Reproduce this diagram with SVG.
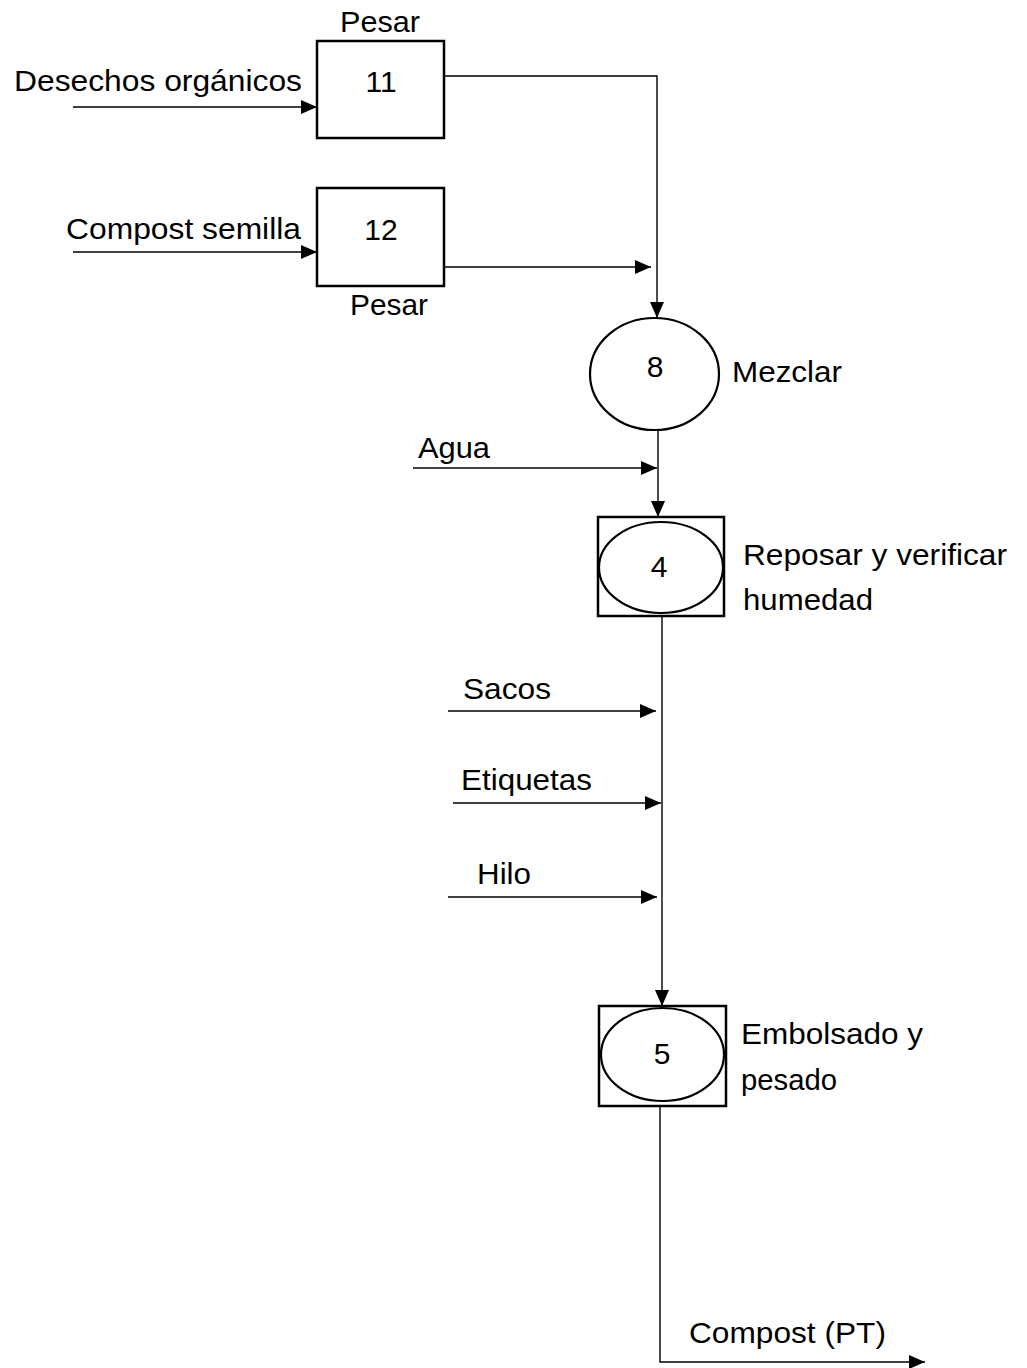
<svg xmlns="http://www.w3.org/2000/svg" width="1027" height="1368" viewBox="0 0 1027 1368">
  <style>
    .box { fill: #fff; stroke: #000; stroke-width: 2.5; }
    .shape { fill: #fff; stroke: #000; stroke-width: 2.2; }
    .flow { fill: none; stroke: #000; stroke-width: 1.4; }
    .lbl { font-family: "Liberation Sans", Arial, sans-serif; font-size: 30px; fill: #000; }
    .num { font-family: "Liberation Sans", Arial, sans-serif; font-size: 30px; fill: #000; text-anchor: middle; }
  </style>
  <defs>
    <marker id="arrow" markerUnits="userSpaceOnUse" markerWidth="18" markerHeight="16" refX="16" refY="7" orient="auto">
      <path d="M0,0 L16,7 L0,14 Z" fill="#000"/>
    </marker>
  </defs>

  <rect width="1027" height="1368" fill="#fff"/>

  <!-- flows between operations -->
  <g id="connectors">
    <line class="flow" x1="73" y1="107" x2="317" y2="107" marker-end="url(#arrow)"/>
    <line class="flow" x1="73" y1="252" x2="317" y2="252" marker-end="url(#arrow)"/>
    <polyline class="flow" points="444,76 657,76 657,318" marker-end="url(#arrow)"/>
    <line class="flow" x1="444" y1="267" x2="651" y2="267" marker-end="url(#arrow)"/>
    <line class="flow" x1="658" y1="430" x2="658" y2="517" marker-end="url(#arrow)"/>
    <line class="flow" x1="413" y1="468" x2="657" y2="468" marker-end="url(#arrow)"/>
    <line class="flow" x1="662" y1="616" x2="662" y2="1006" marker-end="url(#arrow)"/>
    <line class="flow" x1="448" y1="711" x2="656" y2="711" marker-end="url(#arrow)"/>
    <line class="flow" x1="453" y1="803" x2="661" y2="803" marker-end="url(#arrow)"/>
    <line class="flow" x1="448" y1="897" x2="657" y2="897" marker-end="url(#arrow)"/>
    <polyline class="flow" points="660,1106 660,1362 925,1362" marker-end="url(#arrow)"/>
  </g>

  <!-- input labels -->
  <g id="inputs">
    <text class="lbl" x="14" y="91" textLength="288" lengthAdjust="spacingAndGlyphs">Desechos orgánicos</text>
    <text class="lbl" x="66" y="239" textLength="235" lengthAdjust="spacingAndGlyphs">Compost semilla</text>
    <text class="lbl" x="418" y="458" textLength="72" lengthAdjust="spacingAndGlyphs">Agua</text>
    <text class="lbl" x="463" y="699" textLength="88" lengthAdjust="spacingAndGlyphs">Sacos</text>
    <text class="lbl" x="461" y="790" textLength="131" lengthAdjust="spacingAndGlyphs">Etiquetas</text>
    <text class="lbl" x="477" y="884" textLength="54" lengthAdjust="spacingAndGlyphs">Hilo</text>
    <text class="lbl" x="689" y="1343" textLength="197" lengthAdjust="spacingAndGlyphs">Compost (PT)</text>
  </g>

  <!-- inspection 11 -->
  <g id="node-11">
    <rect class="box" x="317" y="41" width="127" height="97"/>
    <text class="num" x="381" y="92">11</text>
    <text class="lbl" x="340" y="32" textLength="80" lengthAdjust="spacingAndGlyphs">Pesar</text>
  </g>

  <!-- inspection 12 -->
  <g id="node-12">
    <rect class="box" x="317" y="188" width="127" height="98"/>
    <text class="num" x="381" y="240">12</text>
    <text class="lbl" x="350" y="315" textLength="78" lengthAdjust="spacingAndGlyphs">Pesar</text>
  </g>

  <!-- operation 8 -->
  <g id="node-8">
    <ellipse class="shape" cx="654.5" cy="374" rx="64.5" ry="56"/>
    <text class="num" x="655" y="377">8</text>
    <text class="lbl" x="732" y="382" textLength="110" lengthAdjust="spacingAndGlyphs">Mezclar</text>
  </g>

  <!-- combined operation 4 -->
  <g id="node-4">
    <rect class="box" x="598" y="517" width="126" height="99"/>
    <ellipse class="shape" cx="661" cy="567.5" rx="62" ry="45.5"/>
    <text class="num" x="659" y="577">4</text>
    <text class="lbl" x="743" y="565" textLength="264" lengthAdjust="spacingAndGlyphs">Reposar y verificar</text>
    <text class="lbl" x="743" y="610" textLength="130" lengthAdjust="spacingAndGlyphs">humedad</text>
  </g>

  <!-- combined operation 5 -->
  <g id="node-5">
    <rect class="box" x="599" y="1006" width="127" height="100"/>
    <ellipse class="shape" cx="662.5" cy="1054.5" rx="61.5" ry="46.5"/>
    <text class="num" x="662" y="1064">5</text>
    <text class="lbl" x="741" y="1044" textLength="182" lengthAdjust="spacingAndGlyphs">Embolsado y</text>
    <text class="lbl" x="741" y="1090" textLength="96" lengthAdjust="spacingAndGlyphs">pesado</text>
  </g>
</svg>
